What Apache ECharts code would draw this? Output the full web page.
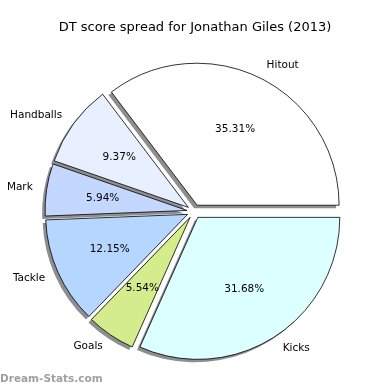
<!DOCTYPE html>
<html><head><meta charset="utf-8">
<script src="https://cdn.jsdelivr.net/npm/echarts@6/dist/echarts.min.js"></script>
<style>html,body{margin:0;padding:0;background:#fff}#c{width:390px;height:390px}</style>
</head><body><div id="c"></div>
<script>
const categories = ['Hitout', 'Handballs', 'Mark', 'Tackle', 'Goals', 'Kicks'];
const values = [35.31, 9.37, 5.94, 12.15, 5.54, 31.68];
const colors = ['#ffffff', '#e8f0ff', '#c4d8ff', '#b4d6ff', '#d4ec8c', '#dcffff'];
const titleText = 'DT score spread for Jonathan Giles (2013)';
const watermark = 'Dream-Stats.com';

const FONT = 'DejaVu Sans';
const R = 142;
const CENTER = [194, 211.5];
const OFFSET = 7;

const mkData = (withColor) => categories.map((c, i) => ({
  name: c, value: values[i], selected: true,
  itemStyle: withColor ? { color: colors[i] } : undefined
}));

const mainItem = { borderColor: '#000', borderWidth: 0.8 };
const shadowItem = { color: '#8e8e8e', borderWidth: 0 };
const clearItem = { color: 'rgba(0,0,0,0)', borderWidth: 0 };

const common = {
  type: 'pie', startAngle: 0, clockwise: false,
  selectedMode: 'multiple', selectedOffset: OFFSET,
  avoidLabelOverlap: false, silent: true
};

const chart = echarts.init(document.getElementById('c'), null, { renderer: 'canvas' });
chart.setOption({
  animation: false,
  title: {
    text: titleText, left: 'center', top: 16,
    textStyle: { fontFamily: FONT, fontSize: 13, fontWeight: 'normal', color: '#000' }
  },
  graphic: [{
    type: 'text', left: 0, top: 374,
    style: { text: watermark, fontFamily: FONT, fontSize: 10.5, fontWeight: 'bold', fill: '#a0a0a0' }
  }],
  series: [Object.assign({}, common, {
    radius: R, center: [CENTER[0] - 3, CENTER[1] + 3],
    itemStyle: shadowItem, select: { itemStyle: shadowItem },
    label: { show: false }, labelLine: { show: false },
    data: mkData(false)
  }), Object.assign({}, common, {
    radius: R, center: CENTER,
    itemStyle: mainItem,
    select: { itemStyle: mainItem, label: { show: true } },
    label: {
      show: true, position: 'outside', fontFamily: FONT, fontSize: 10.5, color: '#000',
      distanceToLabelLine: 0, formatter: '{b}'
    },
    labelLine: { show: false, length: 14, length2: 0 },
    data: mkData(true)
  }), Object.assign({}, common, {
    radius: R * 1.16, center: CENTER,
    itemStyle: clearItem, select: { itemStyle: clearItem },
    label: {
      show: true, position: 'inner', fontFamily: FONT, fontSize: 10.5, color: '#000',
      formatter: p => p.value.toFixed(2) + '%'
    },
    labelLine: { show: false },
    data: mkData(false)
  })]
});
</script></body></html>
